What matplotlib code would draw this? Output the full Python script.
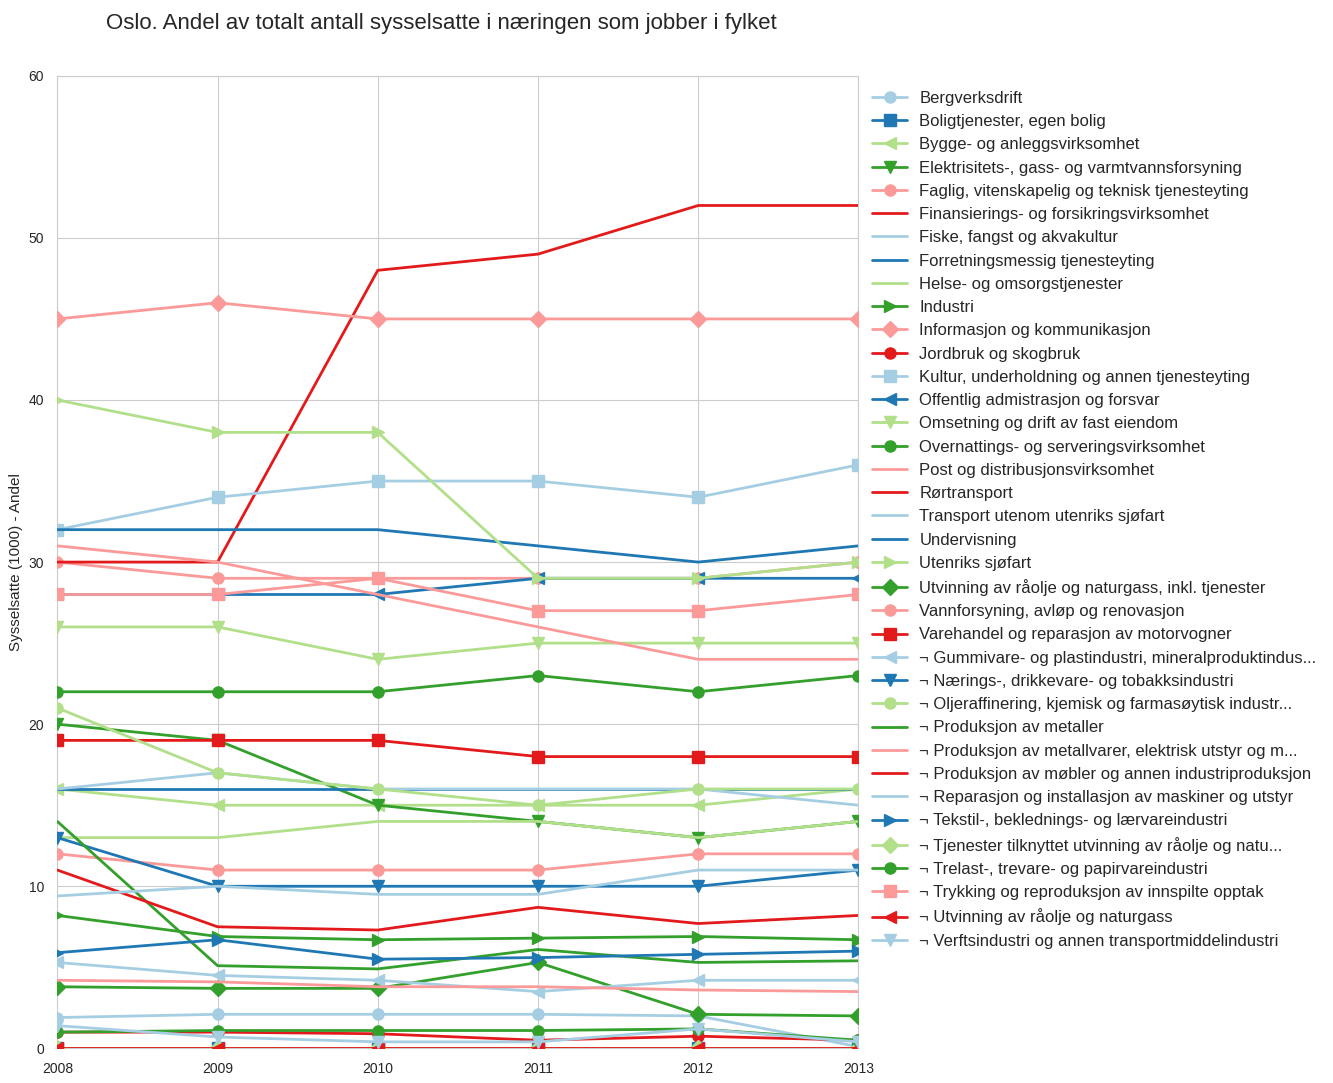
import matplotlib
matplotlib.use('Agg')
from matplotlib import pyplot as plt
import seaborn as sns

sns.set_style('whitegrid')
plt.rcParams['font.family'] = ['Liberation Sans', 'DejaVu Sans']

years = [2008, 2009, 2010, 2011, 2012, 2013]

names = [
    'Bergverksdrift',
    'Boligtjenester, egen bolig',
    'Bygge- og anleggsvirksomhet',
    'Elektrisitets-, gass- og varmtvannsforsyning',
    'Faglig, vitenskapelig og teknisk tjenesteyting',
    'Finansierings- og forsikringsvirksomhet',
    'Fiske, fangst og akvakultur',
    'Forretningsmessig tjenesteyting',
    'Helse- og omsorgstjenester',
    'Industri',
    'Informasjon og kommunikasjon',
    'Jordbruk og skogbruk',
    'Kultur, underholdning og annen tjenesteyting',
    'Offentlig admistrasjon og forsvar',
    'Omsetning og drift av fast eiendom',
    'Overnattings- og serveringsvirksomhet',
    'Post og distribusjonsvirksomhet',
    'Rørtransport',
    'Transport utenom utenriks sjøfart',
    'Undervisning',
    'Utenriks sjøfart',
    'Utvinning av råolje og naturgass, inkl. tjenester',
    'Vannforsyning, avløp og renovasjon',
    'Varehandel og reparasjon av motorvogner',
    '¬ Gummivare- og plastindustri, mineralproduktindus...',
    '¬ Nærings-, drikkevare- og tobakksindustri',
    '¬ Oljeraffinering, kjemisk og farmasøytisk industr...',
    '¬ Produksjon av metaller',
    '¬ Produksjon av metallvarer, elektrisk utstyr og m...',
    '¬ Produksjon av møbler og annen industriproduksjon',
    '¬ Reparasjon og installasjon av maskiner og utstyr',
    '¬ Tekstil-, beklednings- og lærvareindustri',
    '¬ Tjenester tilknyttet utvinning av råolje og natu...',
    '¬ Trelast-, trevare- og papirvareindustri',
    '¬ Trykking og reproduksjon av innspilte opptak',
    '¬ Utvinning av råolje og naturgass',
    '¬ Verftsindustri og annen transportmiddelindustri',
]

values = [
    [1.9, 2.1, 2.1, 2.1, 2.0, 0.1],
    [0, 0, 0, 0, 0, 0],
    [16, 15, 15, 15, 15, 16],
    [20, 19, 15, 14, 13, 14],
    [30, 29, 29, 29, 29, 30],
    [30, 30, 48, 49, 52, 52],
    [0, 0, 0, 0, 0, 0],
    [16, 16, 16, 16, 16, 16],
    [13, 13, 14, 14, 13, 14],
    [8.2, 6.9, 6.7, 6.8, 6.9, 6.7],
    [45, 46, 45, 45, 45, 45],
    [1.0, 1.0, 0.9, 0.5, 0.75, 0.5],
    [32, 34, 35, 35, 34, 36],
    [28, 28, 28, 29, 29, 29],
    [26, 26, 24, 25, 25, 25],
    [22, 22, 22, 23, 22, 23],
    [31, 30, 28, 26, 24, 24],
    [0, 0, 0, 0, 0, 0],
    [16, 17, 16, 16, 16, 15],
    [32, 32, 32, 31, 30, 31],
    [40, 38, 38, 29, 29, 30],
    [3.8, 3.7, 3.7, 5.3, 2.1, 2.0],
    [12, 11, 11, 11, 12, 12],
    [19, 19, 19, 18, 18, 18],
    [5.3, 4.5, 4.2, 3.5, 4.2, 4.2],
    [13, 10, 10, 10, 10, 11],
    [21, 17, 16, 15, 16, 16],
    [14, 5.1, 4.9, 6.1, 5.3, 5.4],
    [4.2, 4.1, 3.8, 3.8, 3.6, 3.5],
    [11, 7.5, 7.3, 8.7, 7.7, 8.2],
    [9.4, 10, 9.5, 9.5, 11, 11],
    [5.9, 6.7, 5.5, 5.6, 5.8, 6.0],
    [0, 0, 0, 0, 0, 0],
    [1.0, 1.1, 1.1, 1.1, 1.2, 0.5],
    [28, 28, 29, 27, 27, 28],
    [0, 0, 0, 0, 0, 0],
    [1.4, 0.7, 0.4, 0.4, 1.2, 0.4],
]

colors = ['#a6cee3', '#1f78b4', '#b2df8a', '#33a02c', '#fb9a99', '#e31a1c']
markers = ['o', 's', '<', 'v', 'o', '', '', '', '', '>', 'D']

fig = plt.figure(figsize=(13.33, 10.83), dpi=100)
ax = fig.add_axes([0.043, 0.032, 0.601, 0.898])

for i, (name, vals) in enumerate(zip(names, values)):
    ax.plot(years, vals, color=colors[i % 6], marker=markers[i % 11],
            markersize=8, linewidth=2, label=name, zorder=3)

ax.set_xlim(2008, 2013)
ax.set_ylim(0, 60)
ax.set_xticks(years)
ax.set_xticklabels([str(y) for y in years])
ax.set_yticks(range(0, 61, 10))
ax.tick_params(labelsize=10, pad=6)
ax.set_ylabel('Sysselsatte (1000) - Andel', fontsize=11)
ax.set_title('Oslo. Andel av totalt antall sysselsatte i næringen som jobber i fylket',
             fontsize=16, x=0.479, y=1.04)
ax.legend(loc='upper left', bbox_to_anchor=(1.0, 0.999), frameon=False,
          fontsize=12, handlelength=2.1, handletextpad=0.72,
          labelspacing=0.495, borderaxespad=0.44)

fig.savefig('out.png', dpi=100)
